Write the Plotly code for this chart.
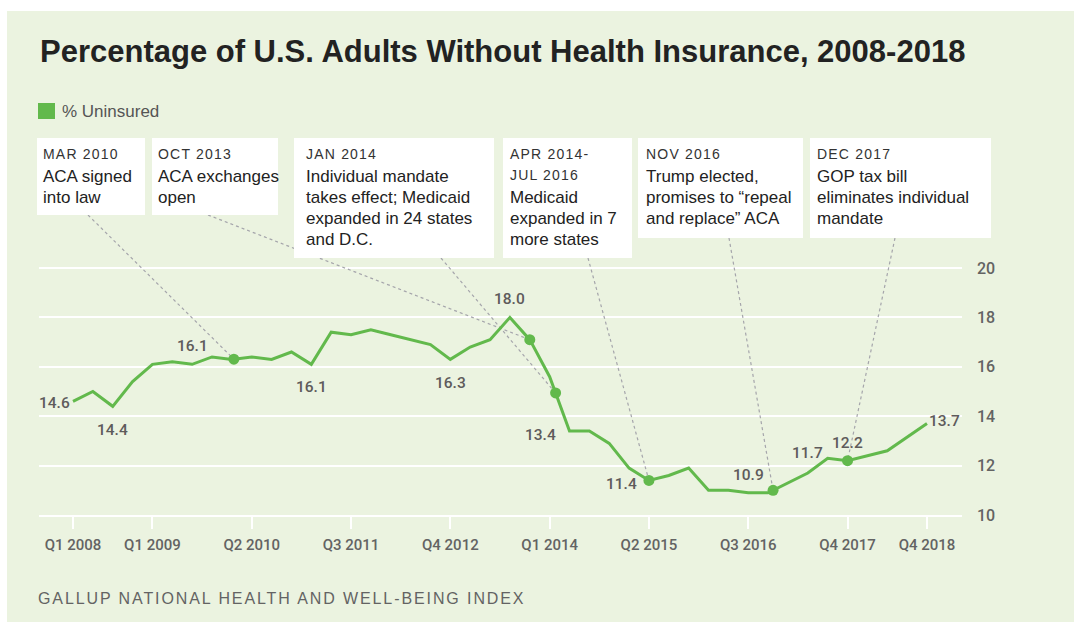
import numpy as np
import plotly.graph_objects as go

# ---------------------------------------------------------------- data
quarters = [
    "Q1 2008", "Q2 2008", "Q3 2008", "Q4 2008",
    "Q1 2009", "Q2 2009", "Q3 2009", "Q4 2009",
    "Q1 2010", "Q2 2010", "Q3 2010", "Q4 2010",
    "Q1 2011", "Q2 2011", "Q3 2011", "Q4 2011",
    "Q1 2012", "Q2 2012", "Q3 2012", "Q4 2012",
    "Q1 2013", "Q2 2013", "Q3 2013", "Q4 2013",
    "Q1 2014", "Q2 2014", "Q3 2014", "Q4 2014",
    "Q1 2015", "Q2 2015", "Q3 2015", "Q4 2015",
    "Q1 2016", "Q2 2016", "Q3 2016", "Q4 2016",
    "Q1 2017", "Q2 2017", "Q3 2017", "Q4 2017",
    "Q2 2018", "Q4 2018",
]
uninsured = [
    14.6, 15.0, 14.4, 15.4,
    16.1, 16.2, 16.1, 16.4,
    16.3, 16.4, 16.3, 16.6,
    16.1, 17.4, 17.3, 17.5,
    17.3, 17.1, 16.9, 16.3,
    16.8, 17.1, 18.0, 17.1,
    15.6, 13.4, 13.4, 12.9,
    11.9, 11.4, 11.6, 11.9,
    11.0, 11.0, 10.9, 10.9,
    11.3, 11.7, 12.3, 12.2,
    12.6, 13.7,
]
tick_labels = ["Q1 2008", "Q1 2009", "Q2 2010", "Q3 2011", "Q4 2012",
               "Q1 2014", "Q2 2015", "Q3 2016", "Q4 2017", "Q4 2018"]
y_ticks = [10, 12, 14, 16, 18, 20]

# quarters whose value is printed next to the line
labelled = ["Q1 2008", "Q3 2008", "Q3 2009", "Q1 2011", "Q4 2012", "Q3 2013",
            "Q2 2014", "Q2 2015", "Q3 2016", "Q2 2017", "Q4 2017", "Q4 2018"]

# policy events: heading, body lines, position on the quarter axis
event_heads = [["MAR 2010"], ["OCT 2013"], ["JAN 2014"],
               ["APR 2014-", "JUL 2016"], ["NOV 2016"], ["DEC 2017"]]
event_bodies = [
    ["ACA signed", "into law"],
    ["ACA exchanges", "open"],
    ["Individual mandate", "takes effect; Medicaid", "expanded in 24 states", "and D.C."],
    ["Medicaid", "expanded in 7", "more states"],
    ["Trump elected,", "promises to \u201crepeal", "and replace\u201d ACA"],
    ["GOP tax bill", "eliminates individual", "mandate"],
]
event_pos = [8.1, 23.0, 24.3, 29.0, 35.25, 39.0]


def qidx(label):
    q, year = label.split()
    return (int(year) - 2008) * 4 + int(q[1]) - 1


x_vals = [qidx(q) for q in quarters]
value_of = dict(zip(quarters, uninsured))
event_vals = np.interp(event_pos, x_vals, uninsured)

# ---------------------------------------------------------------- styling / layout
W, H = 1074, 625
PL, PR, PT, PB = 39, 962, 130, 515          # plot area in pixels
X_RANGE = [-34 / 19.86, (PR - 73) / 19.86]
Y_RANGE = [10, 10 + (PB - PT) / 24.7]

GREEN = "#62b94c"
PANEL = "#ebf3e0"
GREY = "#636363"
FONT = "Liberation Sans, Arial, sans-serif"
NUMFONT = "Roboto, Liberation Sans, Arial, sans-serif"


def px(x):
    return (x - PL) / (PR - PL)


def py(y):
    return (PB - y) / (PB - PT)


def to_data(x, y):
    return (X_RANGE[0] + (x - PL) / (PR - PL) * (X_RANGE[1] - X_RANGE[0]),
            Y_RANGE[0] + (PB - y) / (PB - PT) * (Y_RANGE[1] - Y_RANGE[0]))


# callout boxes (left, top, right, bottom), text left edge, leader start
boxes = [(37, 138, 145, 215), (152, 138, 278, 215), (294, 138, 494, 258),
         (503, 138, 632, 258), (638, 138, 803, 238), (810, 138, 991, 238)]
text_left = [43, 158, 306, 510, 646, 817]
leader_from = [(88, 215), (208, 215), (441, 258), (588, 258), (729, 238), (895, 238)]

# value label offsets (side, dx, dy) in pixels
label_place = {
    "Q1 2008": ("left", -1, -2), "Q3 2008": ("below", 0, -24),
    "Q3 2009": ("above", 0, 18), "Q1 2011": ("below", 0, -23),
    "Q4 2012": ("below", 0, -24), "Q3 2013": ("above", 0, 18),
    "Q2 2014": ("left", -12, -4), "Q2 2015": ("left", -10, -4),
    "Q3 2016": ("above", 0, 18), "Q2 2017": ("above", 0, 20),
    "Q4 2017": ("above", 0, 18), "Q4 2018": ("right", 0, 3),
}

fig = go.Figure()

fig.add_trace(go.Scatter(
    x=x_vals, y=uninsured, mode="lines",
    line=dict(color=GREEN, width=3), hoverinfo="skip", showlegend=False,
))
fig.add_trace(go.Scatter(
    x=event_pos, y=event_vals, mode="markers",
    marker=dict(color=GREEN, size=11), hoverinfo="skip", showlegend=False,
))

shapes = []
# panel background
shapes.append(dict(type="rect", xref="paper", yref="paper", layer="below",
                   x0=px(7), x1=px(W + 5), y0=py(622), y1=py(11),
                   fillcolor=PANEL, line=dict(width=0)))
# legend swatch
shapes.append(dict(type="rect", xref="paper", yref="paper",
                   x0=px(38), x1=px(55), y0=py(119), y1=py(103),
                   fillcolor=GREEN, line=dict(width=0)))
# callout boxes
for (l, t, r, b) in boxes:
    shapes.append(dict(type="rect", xref="paper", yref="paper",
                       x0=px(l), x1=px(r), y0=py(b), y1=py(t),
                       fillcolor="white", line=dict(width=0)))
# dashed leaders from each box to its event dot
for (sx, sy), ex, ev in zip(leader_from, event_pos, event_vals):
    dx0, dy0 = to_data(sx, sy)
    shapes.append(dict(type="line", xref="x", yref="y", layer="between",
                       x0=dx0, y0=dy0, x1=ex, y1=ev,
                       line=dict(color="#a5a5ab", width=1.2, dash="3px,3px")))

ann = []
ann.append(dict(text="<b>Percentage of U.S. Adults Without Health Insurance, 2008-2018</b>",
                xref="paper", yref="paper", x=px(38), y=py(52),
                xanchor="left", yanchor="middle", showarrow=False,
                font=dict(family=FONT, size=31, color="#222222")))
ann.append(dict(text="% Uninsured", xref="paper", yref="paper",
                x=px(60), y=py(111), xanchor="left", yanchor="middle",
                showarrow=False, font=dict(family=FONT, size=17, color="#555555")))
ann.append(dict(text='<span style="letter-spacing:1.9px">GALLUP NATIONAL HEALTH AND WELL-BEING INDEX</span>',
                xref="paper", yref="paper", x=px(36), y=py(598),
                xanchor="left", yanchor="middle", showarrow=False,
                font=dict(family=FONT, size=16, color=GREY)))

for heads, body, tl in zip(event_heads, event_bodies, text_left):
    row = 0
    for h in heads:
        ann.append(dict(text=f'<span style="letter-spacing:1.2px">{h}</span>',
                        xref="paper", yref="paper", x=px(tl - 2), y=py(154 + 20.8 * row),
                        xanchor="left", yanchor="middle", showarrow=False,
                        font=dict(family=FONT, size=14, color="#333333")))
        row += 1
    for line in body:
        ann.append(dict(text=line, xref="paper", yref="paper",
                        x=px(tl - 2), y=py(155 + 20.8 * row + 1),
                        xanchor="left", yanchor="middle", showarrow=False,
                        font=dict(family=FONT, size=17, color="#222222")))
        row += 1

for q in labelled:
    side, dx, dy = label_place[q]
    xa = {"left": "right", "right": "left"}.get(side, "center")
    ann.append(dict(text=f"{value_of[q]:.1f}", x=qidx(q), y=value_of[q],
                    xref="x", yref="y", xanchor=xa, yanchor="middle",
                    xshift=dx, yshift=dy, showarrow=False,
                    font=dict(family=NUMFONT, size=15.5, color="#5e5b5b", weight=500)))

fig.update_layout(
    width=W, height=H, autosize=False,
    margin=dict(l=PL, r=W - PR, t=PT, b=H - PB, pad=0),
    paper_bgcolor="white", plot_bgcolor="rgba(0,0,0,0)",
    shapes=shapes, annotations=ann, showlegend=False,
    xaxis=dict(range=X_RANGE, tickvals=[qidx(t) for t in tick_labels], ticktext=tick_labels,
               ticks="outside", ticklen=12, tickwidth=2, tickcolor="white",
               ticklabelstandoff=3,
               showline=True, linecolor="white", linewidth=2,
               showgrid=False, zeroline=False, fixedrange=True,
               tickfont=dict(family=NUMFONT, size=15, color=GREY, weight=500)),
    yaxis=dict(range=Y_RANGE, tickvals=y_ticks, side="right",
               showgrid=True, gridcolor="white", gridwidth=2,
               zeroline=False, ticks="", ticklabelstandoff=14, fixedrange=True,
               tickfont=dict(family=NUMFONT, size=16, color=GREY, weight=500)),
)

fig.write_html("out.html")
